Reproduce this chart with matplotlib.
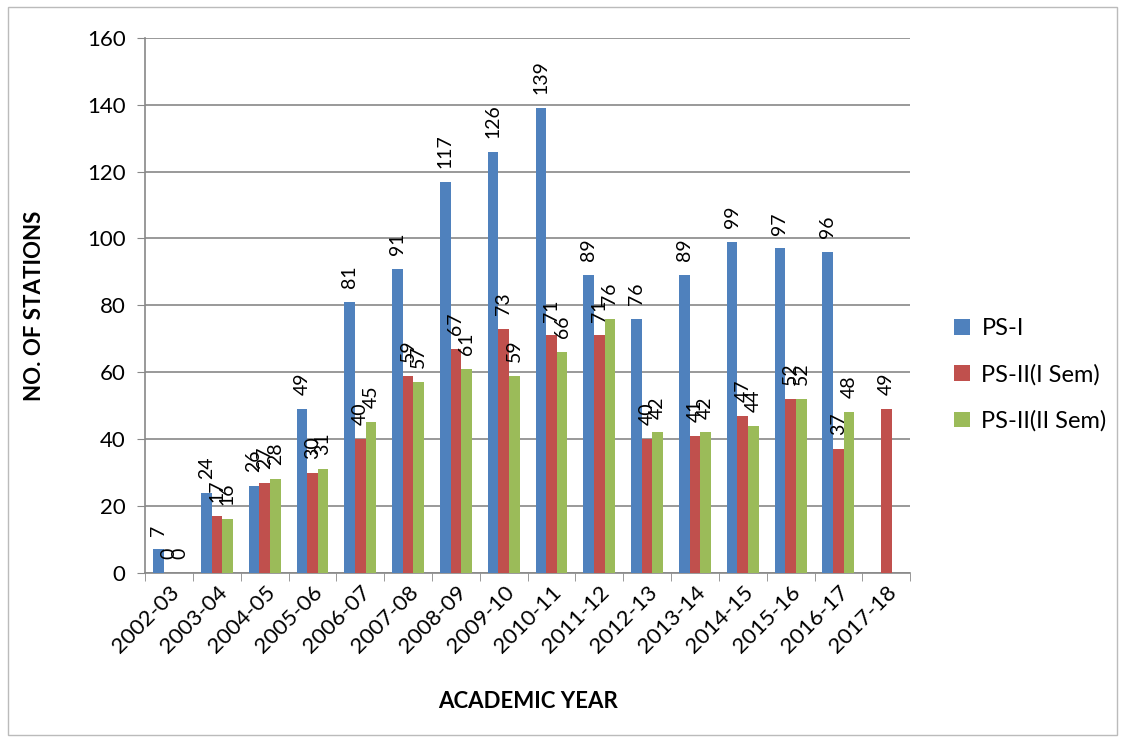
import numpy as np
import matplotlib.pyplot as plt
from matplotlib.patches import Rectangle

plt.rcParams['font.family'] = ['Lato', 'DejaVu Sans']

years = ['2002-03', '2003-04', '2004-05', '2005-06', '2006-07', '2007-08',
         '2008-09', '2009-10', '2010-11', '2011-12', '2012-13', '2013-14',
         '2014-15', '2015-16', '2016-17', '2017-18']
ps1 = [7, 24, 26, 49, 81, 91, 117, 126, 139, 89, 76, 89, 99, 97, 96, np.nan]
ps2_sem1 = [0, 17, 27, 30, 40, 59, 67, 73, 71, 71, 40, 41, 47, 52, 37, 49]
ps2_sem2 = [0, 16, 28, 31, 45, 57, 61, 59, 66, 76, 42, 42, 44, 52, 48, np.nan]

series = [('PS-I', ps1, '#4F81BD'),
          ('PS-II(I Sem)', ps2_sem1, '#C0504D'),
          ('PS-II(II Sem)', ps2_sem2, '#9BBB59')]

fig = plt.figure(figsize=(11.25, 7.42), dpi=100)
ax = fig.add_axes([0.129, 0.228, 0.68, 0.721])

x = np.arange(len(years))
w = 0.222
for i, (name, vals, col) in enumerate(series):
    pos = x + (i - 1) * w
    ax.bar(pos, vals, width=w, color=col, label=name, zorder=3)
    for p, v in zip(pos, vals):
        if np.isnan(v):
            continue
        ax.annotate(str(int(v)), (p, v), xytext=(0, 10), textcoords='offset points',
                    rotation=90, ha='center', va='bottom', fontsize=14)

ax.set_xlim(-0.5, len(years) - 0.5)
ax.set_ylim(0, 160)
ax.set_yticks(range(0, 161, 20))
ax.set_xticks(np.arange(len(years) + 1) - 0.5, minor=True)
ax.set_xticks(x)
ax.set_xticklabels(years, rotation=45, ha='right', rotation_mode='anchor', fontsize=16)
ax.tick_params(axis='x', which='major', length=0, pad=7)
ax.tick_params(axis='x', which='minor', length=6, color='#888888')
ax.tick_params(axis='y', labelsize=16, length=6, color='#888888', pad=8)
ax.grid(axis='y', color='#888888', linewidth=1.2, zorder=0)
for side in ['top', 'right']:
    ax.spines[side].set_visible(False)
for side in ['left', 'bottom']:
    ax.spines[side].set_color('#888888')
    ax.spines[side].set_linewidth(1.2)

ax.set_xlabel('ACADEMIC YEAR', fontsize=16, fontweight='bold', labelpad=24)
ax.set_ylabel('NO. OF STATIONS', fontsize=16, fontweight='bold', labelpad=30)

ax.legend(loc='center left', bbox_to_anchor=(1.03, 0.37), frameon=False,
          fontsize=17, handlelength=0.65, handleheight=0.65, labelspacing=1.05,
          handletextpad=0.5)

fig.patches.append(Rectangle((0.007, 0.01), 0.986, 0.98, transform=fig.transFigure,
                             fill=False, edgecolor='#bbbbbb', linewidth=1))

fig.savefig('out.png', dpi=100)
